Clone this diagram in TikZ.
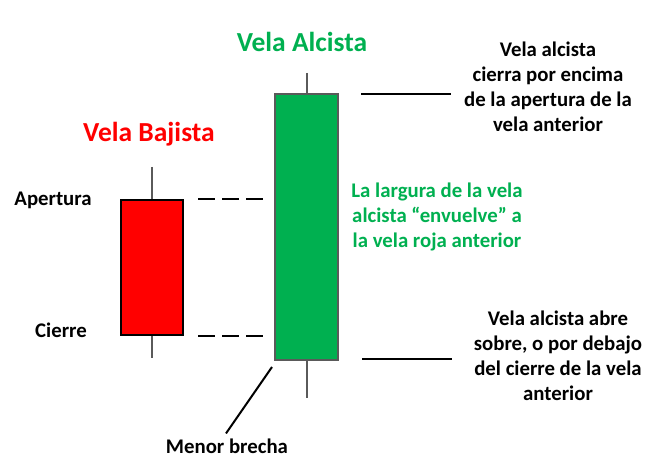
\documentclass[tikz,border=0pt]{standalone}
\usepackage{fontspec}
\setmainfont{Carlito}
\usepackage{tikz}
\usetikzlibrary{calc}
\definecolor{velaroja}{RGB}{255,0,0}
\definecolor{velaverde}{RGB}{0,176,80}
\definecolor{mecha}{RGB}{90,90,90}

\begin{document}
\begin{tikzpicture}[x=1pt,y=-1pt,
    txt/.style={font=\bfseries\fontsize{20.8}{25}\selectfont,align=center,inner sep=0pt},
    titulo/.style={font=\bfseries\fontsize{27.5}{30}\selectfont,inner sep=0pt},
    cuerpo/.style={minimum width=#1,inner sep=0pt,line width=2pt}]
    \useasboundingbox (0,0) rectangle (657,476);
    \coordinate (RedC) at (152,267.5);
    \coordinate (GreenC) at (306.5,227);
    % mechas
    \draw [color=mecha,line width=1.5pt] (152,167)--(152,358);
    \draw [color=mecha,line width=1.5pt] (307,73)--(307,398);
    % cuerpos
    \node[cuerpo=62pt,minimum height=135pt,draw=black,fill=velaroja] (bajista) at (RedC){};
    \node[cuerpo=63pt,minimum height=266pt,draw=mecha,fill=velaverde] (alcista) at (GreenC){};
    % lineas
    \draw [line width=2pt,dash pattern=on 16.5pt off 7.5pt] ($(bajista.north east)+(14,0)$)--++(65,0) coordinate (DashA);
    \draw [line width=2pt,dash pattern=on 16.5pt off 7.5pt] ($(bajista.south east)+(14,0)$)--++(65,0) coordinate (DashB);
    \draw [line width=2pt] ($(alcista.north east)+(22,1)$)--++(90,0) coordinate (LineA);
    \draw [line width=2pt] ($(alcista.south east)+(23,-2)$)--++(90,0) coordinate (LineB);
    %\draw [line width=2pt] (alcista.south west)--(brecha);
    \node[txt] (brecha) at (227,446) {Menor brecha};
    \draw [line width=2pt] ($(alcista.south west)+(-2,6)$)--($(brecha.north)+(-1,-5)$);
    % textos
    \node[titulo,color=velaroja] (tbajista) at (149,134) {Vela Bajista};
    \node[titulo,color=velaverde] (talcista) at (302,42) {Vela Alcista};
    \node[txt] (apertura) at (53,200) {Apertura};
    \node[txt] (cierre) at (61,330) {Cierre};
    \node[txt] (encima) at (548,86.5) {Vela alcista\\cierra por encima\\de la apertura de la\\vela anterior};
    \node[txt,color=velaverde] (envuelve) at (437,217) {La largura de la vela\\alcista “envuelve” a\\la vela roja anterior};
    \node[txt] (debajo) at (558,355.5) {Vela alcista abre\\sobre, o por debajo\\del cierre de la vela\\anterior};
  \end{tikzpicture}
\end{document}
